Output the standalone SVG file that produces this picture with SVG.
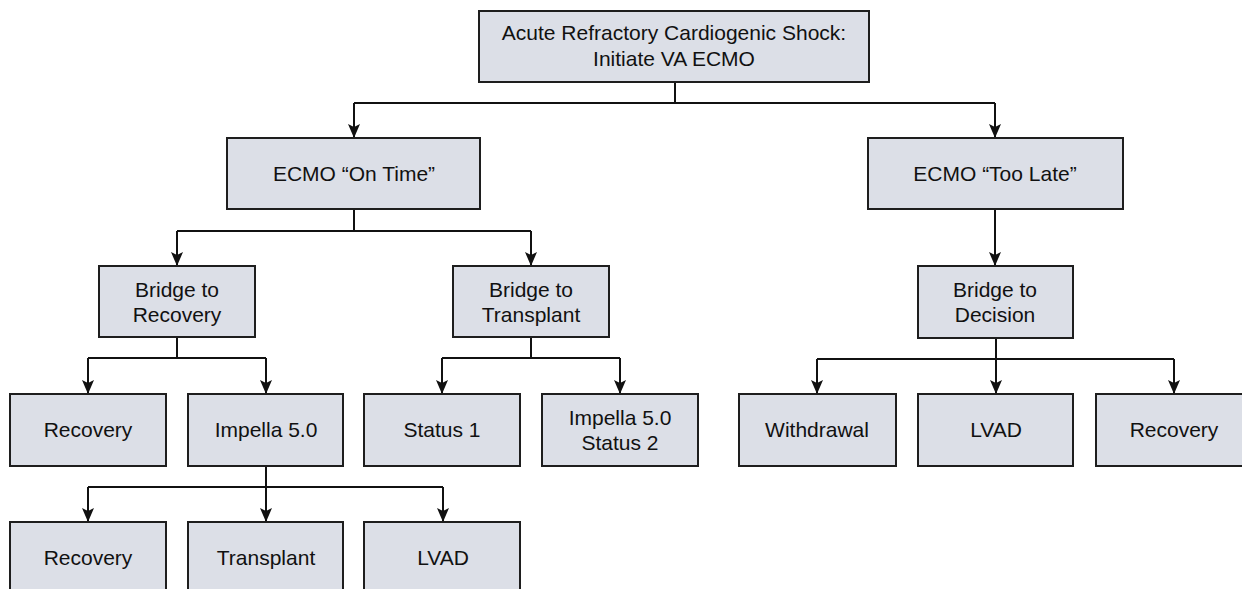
<svg xmlns="http://www.w3.org/2000/svg" width="1242" height="589" viewBox="0 0 1242 589">
<style>
.box{fill:#dcdfe7;stroke:#1e1e1e;stroke-width:2}
.t{font-family:"Liberation Sans",Arial,sans-serif;font-size:21px;fill:#111;text-anchor:middle}
.c{fill:none;stroke:#111;stroke-width:2}
</style>
<defs>
<marker id="a" markerUnits="userSpaceOnUse" markerWidth="16" markerHeight="14" refX="14" refY="6" orient="auto">
<path d="M0,0 L14,6 L0,12 L3,6 Z" fill="#111"/>
</marker>
</defs>
<rect width="1242" height="589" fill="#fff"/>
<g id="connectors">
<path class="c" d="M675,82 V103"/>
<path class="c" d="M354,103 H995"/>
<path class="c" d="M354,103 V138" marker-end="url(#a)"/>
<path class="c" d="M995,103 V138" marker-end="url(#a)"/>
<path class="c" d="M354,209 V231 M177,231 H531"/>
<path class="c" d="M177,231 V266" marker-end="url(#a)"/>
<path class="c" d="M531,231 V266" marker-end="url(#a)"/>
<path class="c" d="M995,209 V266" marker-end="url(#a)"/>
<path class="c" d="M177,337 V358 M88,358 H266"/>
<path class="c" d="M88,358 V394" marker-end="url(#a)"/>
<path class="c" d="M266,358 V394" marker-end="url(#a)"/>
<path class="c" d="M531,337 V358 M442,358 H620"/>
<path class="c" d="M442,358 V394" marker-end="url(#a)"/>
<path class="c" d="M620,358 V394" marker-end="url(#a)"/>
<path class="c" d="M996,338 V359 M817,359 H1174"/>
<path class="c" d="M817,359 V394" marker-end="url(#a)"/>
<path class="c" d="M996,359 V394" marker-end="url(#a)"/>
<path class="c" d="M1174,359 V394" marker-end="url(#a)"/>
<path class="c" d="M266,466 V487 M88,487 H443"/>
<path class="c" d="M88,487 V522" marker-end="url(#a)"/>
<path class="c" d="M266,487 V522" marker-end="url(#a)"/>
<path class="c" d="M443,487 V522" marker-end="url(#a)"/>
</g>
<g id="n-root"><rect class="box" x="479" y="11" width="390" height="71"/><text class="t" x="674" y="40">Acute Refractory Cardiogenic Shock:</text><text class="t" x="674" y="66">Initiate VA ECMO</text></g>
<g id="n-ontime"><rect class="box" x="227" y="138" width="253" height="71"/><text class="t" x="354" y="181">ECMO “On Time”</text></g>
<g id="n-toolate"><rect class="box" x="868" y="138" width="255" height="71"/><text class="t" x="995" y="181">ECMO “Too Late”</text></g>
<g id="n-btr"><rect class="box" x="99" y="266" width="156" height="71"/><text class="t" x="177" y="297">Bridge to</text><text class="t" x="177" y="322">Recovery</text></g>
<g id="n-btt"><rect class="box" x="453" y="266" width="156" height="71"/><text class="t" x="531" y="297">Bridge to</text><text class="t" x="531" y="322">Transplant</text></g>
<g id="n-btd"><rect class="box" x="918" y="266" width="155" height="72"/><text class="t" x="995" y="297">Bridge to</text><text class="t" x="995" y="322">Decision</text></g>
<g id="n-rec1"><rect class="box" x="10" y="394" width="156" height="72"/><text class="t" x="88" y="437">Recovery</text></g>
<g id="n-imp"><rect class="box" x="188" y="394" width="155" height="72"/><text class="t" x="266" y="437">Impella 5.0</text></g>
<g id="n-s1"><rect class="box" x="364" y="394" width="156" height="72"/><text class="t" x="442" y="437">Status 1</text></g>
<g id="n-s2"><rect class="box" x="542" y="394" width="156" height="72"/><text class="t" x="620" y="425">Impella 5.0</text><text class="t" x="620" y="450">Status 2</text></g>
<g id="n-wd"><rect class="box" x="739" y="394" width="157" height="72"/><text class="t" x="817" y="437">Withdrawal</text></g>
<g id="n-lvad1"><rect class="box" x="918" y="394" width="155" height="72"/><text class="t" x="996" y="437">LVAD</text></g>
<g id="n-rec2"><rect class="box" x="1096" y="394" width="156" height="72"/><text class="t" x="1174" y="437">Recovery</text></g>
<g id="n-rec3"><rect class="box" x="10" y="522" width="156" height="75"/><text class="t" x="88" y="565">Recovery</text></g>
<g id="n-tx"><rect class="box" x="188" y="522" width="155" height="75"/><text class="t" x="266" y="565">Transplant</text></g>
<g id="n-lvad2"><rect class="box" x="364" y="522" width="156" height="75"/><text class="t" x="443" y="565">LVAD</text></g>
</svg>
